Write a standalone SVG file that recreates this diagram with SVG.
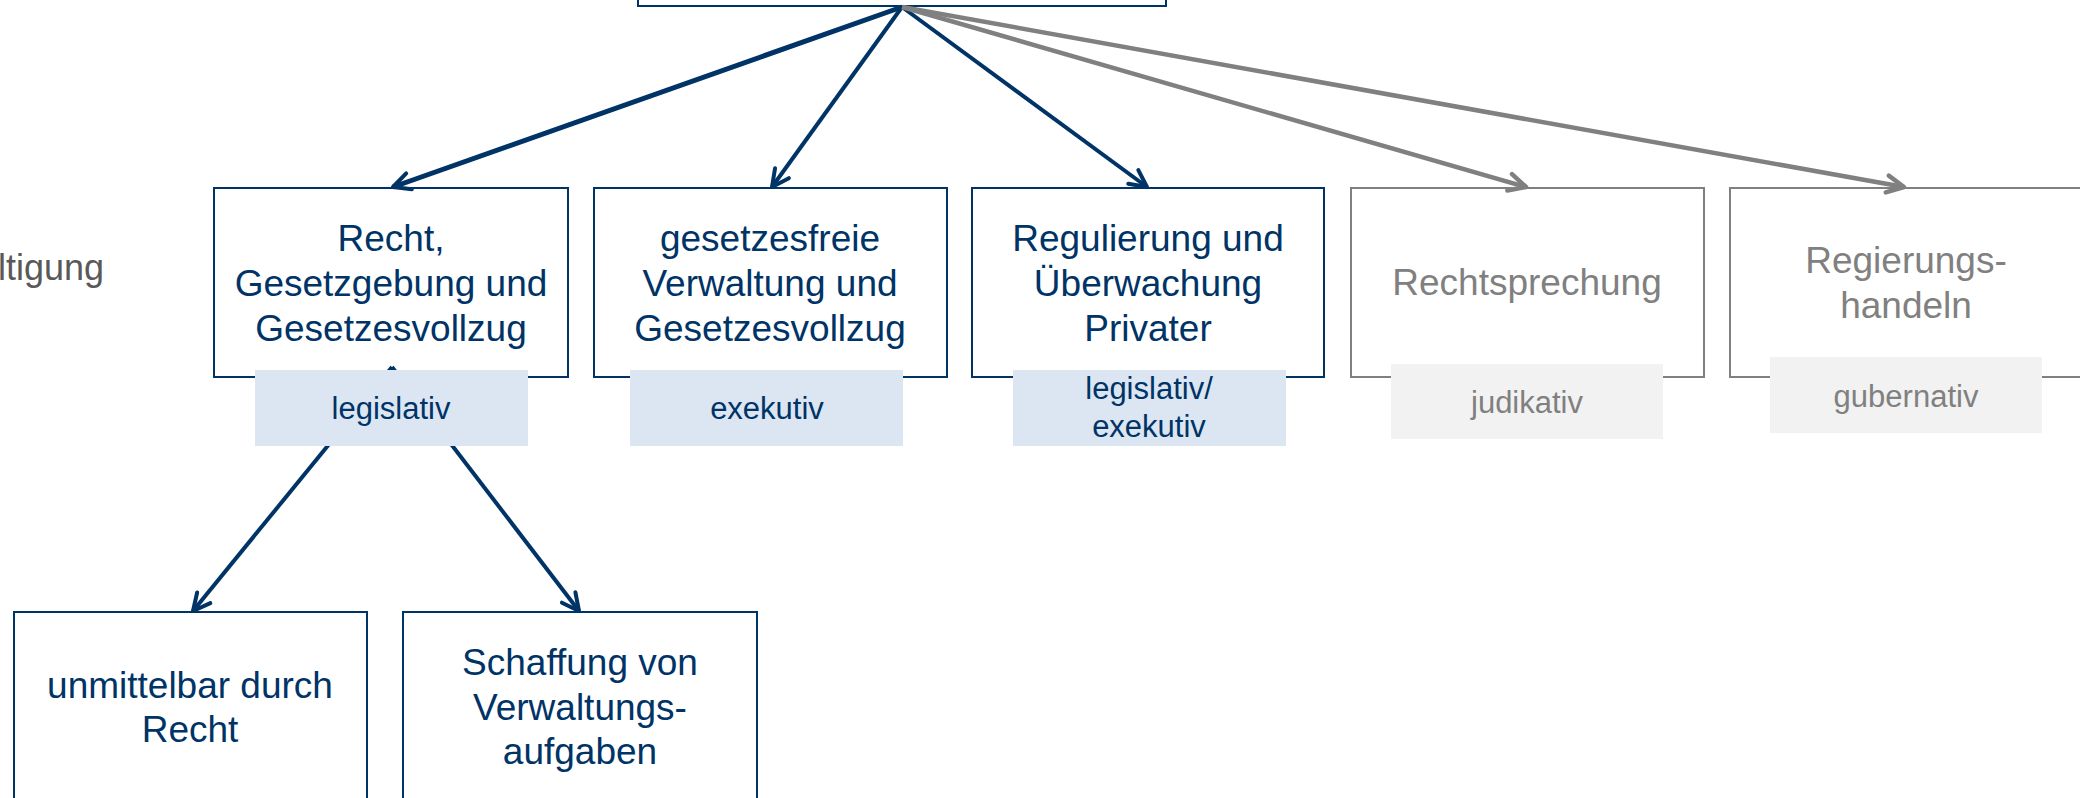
<svg xmlns="http://www.w3.org/2000/svg" width="2080" height="798" viewBox="0 0 2080 798">
  <style>
    .box { fill: #ffffff; stroke: #003366; stroke-width: 2; }
    .gbox { fill: #ffffff; stroke: #808080; stroke-width: 2; }
    .t { font-family: "Liberation Sans", Arial, sans-serif; font-size: 37px; fill: #003366; text-anchor: middle; }
    .gt { font-family: "Liberation Sans", Arial, sans-serif; font-size: 37px; fill: #808080; text-anchor: middle; }
    .tag { fill: #dce6f2; }
    .gtag { fill: #f2f2f2; }
    .lt { font-family: "Liberation Sans", Arial, sans-serif; font-size: 31px; fill: #003366; text-anchor: middle; }
    .glt { font-family: "Liberation Sans", Arial, sans-serif; font-size: 31px; fill: #808080; text-anchor: middle; }
    .side { font-family: "Liberation Sans", Arial, sans-serif; font-size: 36px; fill: #595959; }
    .cb { fill: none; stroke: #003366; stroke-width: 4; marker-end: url(#ab); }
    .cg { fill: none; stroke: #808080; stroke-width: 4.5; marker-end: url(#ag); }
  </style>
  <defs>
    <marker id="ab" markerUnits="userSpaceOnUse" viewBox="-22 -13 26 26" refX="0" refY="0" markerWidth="26" markerHeight="26" orient="auto">
      <path d="M-17,-8.5 L0,0 L-17,8.5" fill="none" stroke="#003366" stroke-width="4" stroke-linecap="round" stroke-linejoin="round"/>
    </marker>
    <marker id="ag" markerUnits="userSpaceOnUse" viewBox="-22 -13 26 26" refX="0" refY="0" markerWidth="26" markerHeight="26" orient="auto">
      <path d="M-17,-8.5 L0,0 L-17,8.5" fill="none" stroke="#808080" stroke-width="4.5" stroke-linecap="round" stroke-linejoin="round"/>
    </marker>
  </defs>

  <text class="side" x="-2" y="280">ltigung</text>

  <g id="node-top">
    <rect class="box" x="638" y="-40" width="528" height="46"/>
  </g>

  <g id="node-recht">
    <rect class="box" x="214" y="188" width="354" height="189"/>
    <text class="t" x="391" y="251">Recht,</text>
    <text class="t" x="391" y="296">Gesetzgebung und</text>
    <text class="t" x="391" y="341">Gesetzesvollzug</text>
  </g>

  <g id="node-gesetzesfrei">
    <rect class="box" x="594" y="188" width="353" height="189"/>
    <text class="t" x="770" y="251">gesetzesfreie</text>
    <text class="t" x="770" y="296">Verwaltung und</text>
    <text class="t" x="770" y="341">Gesetzesvollzug</text>
  </g>

  <g id="node-regulierung">
    <rect class="box" x="972" y="188" width="352" height="189"/>
    <text class="t" x="1148" y="251">Regulierung und</text>
    <text class="t" x="1148" y="296">Überwachung</text>
    <text class="t" x="1148" y="341">Privater</text>
  </g>

  <g id="node-rechtsprechung">
    <rect class="gbox" x="1351" y="188" width="353" height="189"/>
    <text class="gt" x="1527" y="295">Rechtsprechung</text>
  </g>

  <g id="node-regierung">
    <rect class="gbox" x="1730" y="188" width="354" height="189"/>
    <text class="gt" x="1906" y="273">Regierungs-</text>
    <text class="gt" x="1906" y="318">handeln</text>
  </g>

  <g id="node-unmittelbar">
    <rect class="box" x="14" y="612" width="353" height="220"/>
    <text class="t" x="190" y="698">unmittelbar durch</text>
    <text class="t" x="190" y="742">Recht</text>
  </g>

  <g id="node-schaffung">
    <rect class="box" x="403" y="612" width="354" height="220"/>
    <text class="t" x="580" y="675">Schaffung von</text>
    <text class="t" x="580" y="720">Verwaltungs-</text>
    <text class="t" x="580" y="764">aufgaben</text>
  </g>

  <g id="connectors">
    <path class="cb" d="M902,7 L393,187" style="stroke-width:5"/>
    <path class="cb" d="M902,7 L772,187"/>
    <path class="cb" d="M902,7 L1147,187"/>
    <path class="cg" d="M902,7 L1526,187"/>
    <path class="cg" d="M902,7 L1904,187"/>
    <path class="cb" d="M392,367 L193,611"/>
    <path class="cb" d="M392,367 L579,611"/>
  </g>

  <g id="tag-legislativ">
    <rect class="tag" x="255" y="370" width="273" height="76"/>
    <text class="lt" x="391" y="419">legislativ</text>
  </g>
  <g id="tag-exekutiv">
    <rect class="tag" x="630" y="370" width="273" height="76"/>
    <text class="lt" x="767" y="419">exekutiv</text>
  </g>
  <g id="tag-legexe">
    <rect class="tag" x="1013" y="370" width="273" height="76"/>
    <text class="lt" x="1149" y="399">legislativ/</text>
    <text class="lt" x="1149" y="437">exekutiv</text>
  </g>
  <g id="tag-judikativ">
    <rect class="gtag" x="1391" y="364" width="272" height="75"/>
    <text class="glt" x="1527" y="413">judikativ</text>
  </g>
  <g id="tag-gubernativ">
    <rect class="gtag" x="1770" y="357" width="272" height="76"/>
    <text class="glt" x="1906" y="407">gubernativ</text>
  </g>
</svg>
